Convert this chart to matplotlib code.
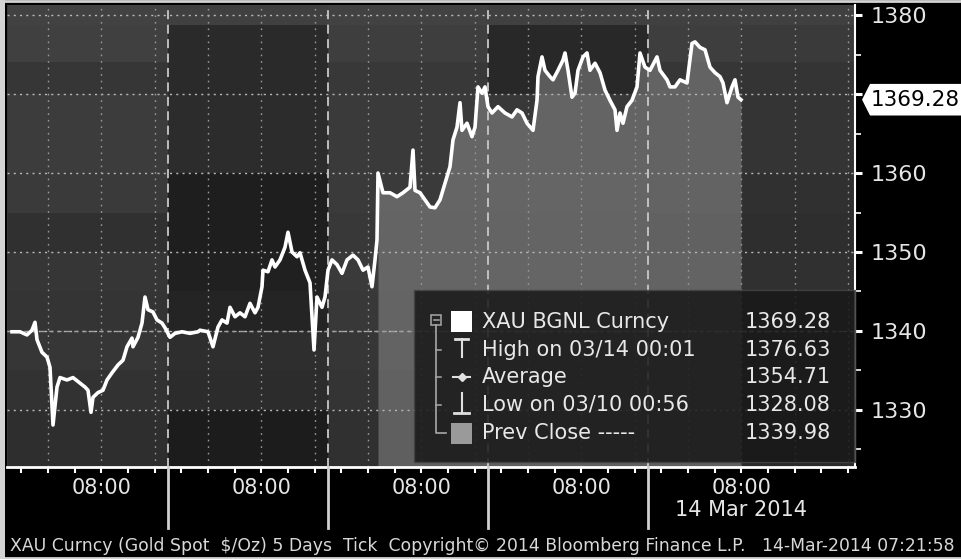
import matplotlib
matplotlib.use("Agg")
import matplotlib.pyplot as plt
import numpy as np
from matplotlib.patches import Rectangle, Polygon
from matplotlib.transforms import blended_transform_factory

# ---------------- data (hours since 18:00 on 09-Mar, XAU spot price) ----------------
hours = [0.6, 1.8, 2.85, 3.6, 4.05, 4.35, 5.1, 5.85, 6.3, 6.75, 7.35, 7.8, 8.85, 9.75, 10.8,
         11.55, 12.0, 12.45, 12.75, 13.5, 14.25, 14.85, 15.6, 16.5, 17.25, 17.85, 18.6, 18.75,
         19.5, 20.1, 20.55, 21.0, 21.75, 22.35, 23.1, 23.55, 24.3, 25.05, 26.1, 27.3, 28.5,
         28.8, 30.0, 30.75, 31.5, 32.1, 32.85, 33.3, 34.05, 34.8, 35.55, 36.3, 37.05, 37.5,
         38.1, 38.25, 39.0, 39.6, 40.05, 40.8, 41.55, 42.0, 42.6, 43.35, 43.8, 44.55, 45.3,
         45.9, 46.35, 47.1, 47.55, 48.0, 48.6, 49.35, 50.1, 50.85, 51.75, 52.5, 53.25, 54.0,
         54.6, 55.05, 55.35, 55.5, 56.25, 57.3, 58.35, 59.25, 60.3, 60.75, 61.05, 61.8, 62.55,
         63.3, 64.05, 64.8, 65.55, 66.3, 66.75, 67.35, 67.8, 68.1, 68.85, 69.6, 70.05, 70.5,
         71.1, 71.55, 72.0, 72.6, 73.5, 74.55, 75.6, 76.35, 77.1, 77.85, 78.75, 79.35, 79.5,
         80.1, 80.55, 81.3, 81.75, 82.5, 83.25, 83.55, 84.0, 84.6, 85.05, 85.5, 86.25, 86.85,
         87.3, 88.05, 88.8, 89.55, 90.3, 91.05, 91.35, 91.8, 92.25, 92.85, 93.6, 94.35, 94.8,
         95.55, 96.3, 97.35, 97.8, 98.85, 99.3, 100.05, 100.8, 101.85, 102.6, 103.05, 103.8,
         104.55, 105.3, 106.05, 106.8, 107.25, 107.85, 108.6, 109.05, 109.5, 109.95]
prices = [1339.9, 1339.9, 1339.5, 1340.1, 1341.1, 1338.9, 1337.3, 1336.7, 1335.4, 1328.1,
          1332.9, 1334.1, 1333.8, 1334.1, 1333.4, 1332.9, 1332.5, 1329.7, 1331.6, 1332.2,
          1332.5, 1333.8, 1334.7, 1335.7, 1336.3, 1338.0, 1339.1, 1338.0, 1339.2, 1341.0,
          1344.3, 1342.7, 1342.4, 1341.4, 1341.0, 1340.4, 1339.2, 1339.7, 1339.9, 1339.7,
          1339.9, 1340.1, 1339.9, 1338.0, 1340.5, 1341.4, 1341.0, 1343.0, 1341.8, 1342.3,
          1341.8, 1343.5, 1342.3, 1343.0, 1345.6, 1347.7, 1347.5, 1349.0, 1348.1, 1349.0,
          1350.6, 1352.5, 1350.0, 1349.4, 1349.9, 1347.7, 1346.1, 1337.6, 1344.3, 1343.0,
          1344.3, 1347.7, 1349.0, 1348.4, 1347.3, 1349.0, 1349.6, 1349.0, 1347.7, 1348.1,
          1345.6, 1349.0, 1351.5, 1360.0, 1357.5, 1357.5, 1357.0, 1357.5, 1358.2, 1362.9,
          1357.8, 1357.5, 1356.6, 1355.7, 1355.6, 1356.6, 1358.7, 1360.8, 1364.2, 1365.8,
          1368.9, 1365.4, 1366.3, 1364.6, 1365.8, 1370.9, 1370.1, 1370.9, 1368.4, 1367.6,
          1368.4, 1367.6, 1367.1, 1368.0, 1367.6, 1366.3, 1365.4, 1369.2, 1372.2, 1374.7,
          1373.0, 1372.2, 1371.8, 1373.0, 1374.3, 1375.2, 1373.0, 1369.6, 1370.1, 1373.0,
          1374.7, 1375.2, 1373.0, 1373.9, 1372.7, 1370.5, 1369.2, 1368.0, 1365.4, 1367.6,
          1366.3, 1368.4, 1369.2, 1370.9, 1375.2, 1373.4, 1373.0, 1374.7, 1373.0, 1371.8,
          1370.9, 1370.9, 1371.8, 1371.4, 1376.4, 1376.6, 1375.9, 1375.6, 1373.4, 1372.7,
          1372.2, 1371.4, 1368.9, 1370.9, 1371.8, 1369.6, 1369.28]
fill_start_hour = 55.5

day_starts = [24, 48, 72, 96]
label_hours = [14, 38, 62, 86, 110]
x_tick_labels = ["08:00", "08:00", "08:00", "08:00", "08:00"]
date_label = "14 Mar 2014"
y_ticks = [1330, 1340, 1350, 1360, 1370, 1380]
y_tick_labels = ["1330", "1340", "1350", "1360", "", "1380"]
last_price = 1369.28
prev_close = 1339.98
legend_labels = ["XAU BGNL Curncy", "High on 03/14 00:01", "Average",
                 "Low on 03/10 00:56", "Prev Close -----"]
legend_values = ["1369.28", "1376.63", "1354.71", "1328.08", "1339.98"]
footer = ("XAU Curncy (Gold Spot  $/Oz) 5 Days  Tick  Copyright\u00a9 2014 "
          "Bloomberg Finance L.P.   14-Mar-2014 07:21:58")

# background shading blocks (decoration)
bg_hours = [0, 24, 48, 72, 96, 110, 127.1]
bg_prices = [1322.8, 1330, 1335, 1340, 1345, 1350, 1355, 1360, 1370, 1374, 1378.8, 1381.3]
bg_shades = [
    [46, 28, 48, 48, 48, 42],
    [50, 44, 52, 52, 52, 46],
    [54, 46, 54, 54, 54, 48],
    [52, 36, 56, 56, 54, 48],
    [54, 32, 58, 58, 54, 48],
    [48, 30, 56, 56, 52, 46],
    [58, 30, 58, 58, 54, 48],
    [60, 44, 58, 56, 54, 52],
    [54, 42, 56, 40, 54, 52],
    [64, 42, 62, 40, 62, 58],
    [66, 64, 66, 64, 64, 64],
]

# ---------------- figure ----------------
W, H = 961, 559
fig = plt.figure(figsize=(W / 100, H / 100), dpi=100, facecolor="black")
ax = fig.add_axes([7 / W, 92 / H, 848 / W, 462 / H])
ax.set_facecolor("#383838")
ax.set_xlim(-0.15, 127.05)
ax.set_ylim(1322.78, 1381.27)

ax.pcolormesh(bg_hours, bg_prices, np.array(bg_shades), cmap="gray", vmin=0, vmax=255,
              shading="flat", zorder=0)

h = np.array(hours)
p = np.array(prices)
mask = h >= fill_start_hour
ax.fill_between(h, 1322.78, p, where=mask, color="#9a9a9a", alpha=0.45, lw=0, zorder=1)

# grid
for yv in y_ticks:
    ax.axhline(yv, color="#b8b8b8", lw=1.0, ls=(0, (1.5, 3)), zorder=2)
for xv in np.arange(6, 127, 8):
    ax.axvline(xv, color="#9a9a9a", lw=1.0, ls=(0, (1.2, 3.5)), zorder=2)
for xv in day_starts:
    ax.axvline(xv, color="#c8c8c8", lw=1.3, ls=(0, (5, 3)), zorder=2)
ax.axhline(prev_close, color="#a0a0a0", lw=1.0, ls=(0, (3, 3)), zorder=2)

ax.plot(h, p, color="white", lw=2.6, solid_joinstyle="round", zorder=4)

# spines
for s in ["top", "left"]:
    ax.spines[s].set_visible(False)
ax.spines["bottom"].set_color("white")
ax.spines["bottom"].set_linewidth(2)
ax.spines["right"].set_color("white")
ax.spines["right"].set_linewidth(1.5)

# y axis on the right
ax.yaxis.tick_right()
ax.set_yticks(y_ticks)
ax.set_yticklabels(y_tick_labels)
ax.set_yticks(np.arange(1325, 1381, 10), minor=True)
ax.tick_params(axis="y", which="major", direction="out", length=5, width=2.2,
               colors="white", labelsize=16, pad=6.5, labelcolor="#e6e6e6")
ax.tick_params(axis="y", which="minor", direction="out", length=4, width=1.2, colors="white")

# x axis
ax.set_xticks(label_hours)
ax.set_xticklabels(x_tick_labels)
ax.set_xticks([v for v in np.arange(2, 127, 4) if v not in label_hours], minor=True)
ax.tick_params(axis="x", which="major", direction="out", length=4, width=1.5,
               colors="white", labelsize=15, pad=4, labelcolor="#e6e6e6")
ax.tick_params(axis="x", which="minor", direction="out", length=4, width=1.5, colors="white")

trans_x = blended_transform_factory(ax.transData, ax.transAxes)
for xv in day_starts:
    ax.plot([xv, xv], [0, -0.132], transform=trans_x, color="#d0d0d0", lw=2,
            clip_on=False, zorder=5)
ax.text(label_hours[-1], -0.094, date_label, transform=trans_x, ha="center", va="center",
        fontsize=15, color="#e6e6e6")

# last price callout
trans_y = blended_transform_factory(ax.transAxes, ax.transData)
half = 2.0
poly = Polygon([(1.0083, last_price), (1.0177, last_price + half), (1.15, last_price + half),
                (1.15, last_price - half), (1.0177, last_price - half)],
               closed=True, transform=trans_y, facecolor="white", edgecolor="none",
               clip_on=False, zorder=6)
ax.add_patch(poly)
ax.text(1.0185, last_price, f"{last_price:.2f}", transform=trans_y, ha="left", va="center",
        fontsize=15.5, color="black", clip_on=False, zorder=7)

# ---------------- overlay for legend & frame (pixel coordinates) ----------------
lax = fig.add_axes([0, 0, 1, 1], facecolor="none")
lax.set_xlim(0, W)
lax.set_ylim(H, 0)
lax.axis("off")

lax.add_patch(Rectangle((414, 290), 441, 172, facecolor="#181818", alpha=0.85,
                        edgecolor="#444444", lw=1, zorder=1))
row_y = [322, 350, 377, 405, 433]
for yy, lab, val in zip(row_y, legend_labels, legend_values):
    lax.text(482, yy, lab, ha="left", va="center", fontsize=15, color="#e8e8e8", zorder=3)
    lax.text(831, yy, val, ha="right", va="center", fontsize=15, color="#e8e8e8", zorder=3)

tree_c = "#a8a8a8"
lax.add_patch(Rectangle((431, 315), 10, 10, facecolor="none", edgecolor=tree_c, lw=1.1, zorder=3))
lax.plot([433.5, 438.5], [320, 320], color=tree_c, lw=1.1, zorder=3)
lax.plot([436, 436, 446], [325, 433, 433], color=tree_c, lw=1.2, zorder=3)
for yy in row_y[1:4]:
    lax.plot([436, 441], [yy, yy], color=tree_c, lw=1.1, zorder=3)

lax.add_patch(Rectangle((451, 311), 21, 21, facecolor="white", edgecolor="none", zorder=3))
lax.plot([455, 468], [339, 339], color="#e0e0e0", lw=2, zorder=3)
lax.plot([461.5, 461.5], [339, 357], color="#e0e0e0", lw=1.5, zorder=3)
lax.plot([453, 470], [377, 377], color="#e0e0e0", lw=1.5, zorder=3)
lax.plot([461.5], [377], marker="D", ms=4, color="#e0e0e0", zorder=3)
lax.plot([461.5, 461.5], [393, 413], color="#e0e0e0", lw=1.5, zorder=3)
lax.plot([454, 469], [413, 413], color="#e0e0e0", lw=2, zorder=3)
lax.add_patch(Rectangle((451, 423), 21, 21, facecolor="#9a9a9a", edgecolor="none", zorder=3))

lax.text(10, 546, footer, ha="left", va="center", fontsize=12.4, color="#d8d8d8")

# light frame
lax.add_patch(Rectangle((0, 0), 5, H, facecolor="#d4d4d4", edgecolor="none", zorder=0))
lax.plot([0, W], [1, 1], color="#d4d4d4", lw=2)
lax.plot([0, W], [558, 558], color="#d4d4d4", lw=2)

fig.savefig("out.png", dpi=100, facecolor="black")
